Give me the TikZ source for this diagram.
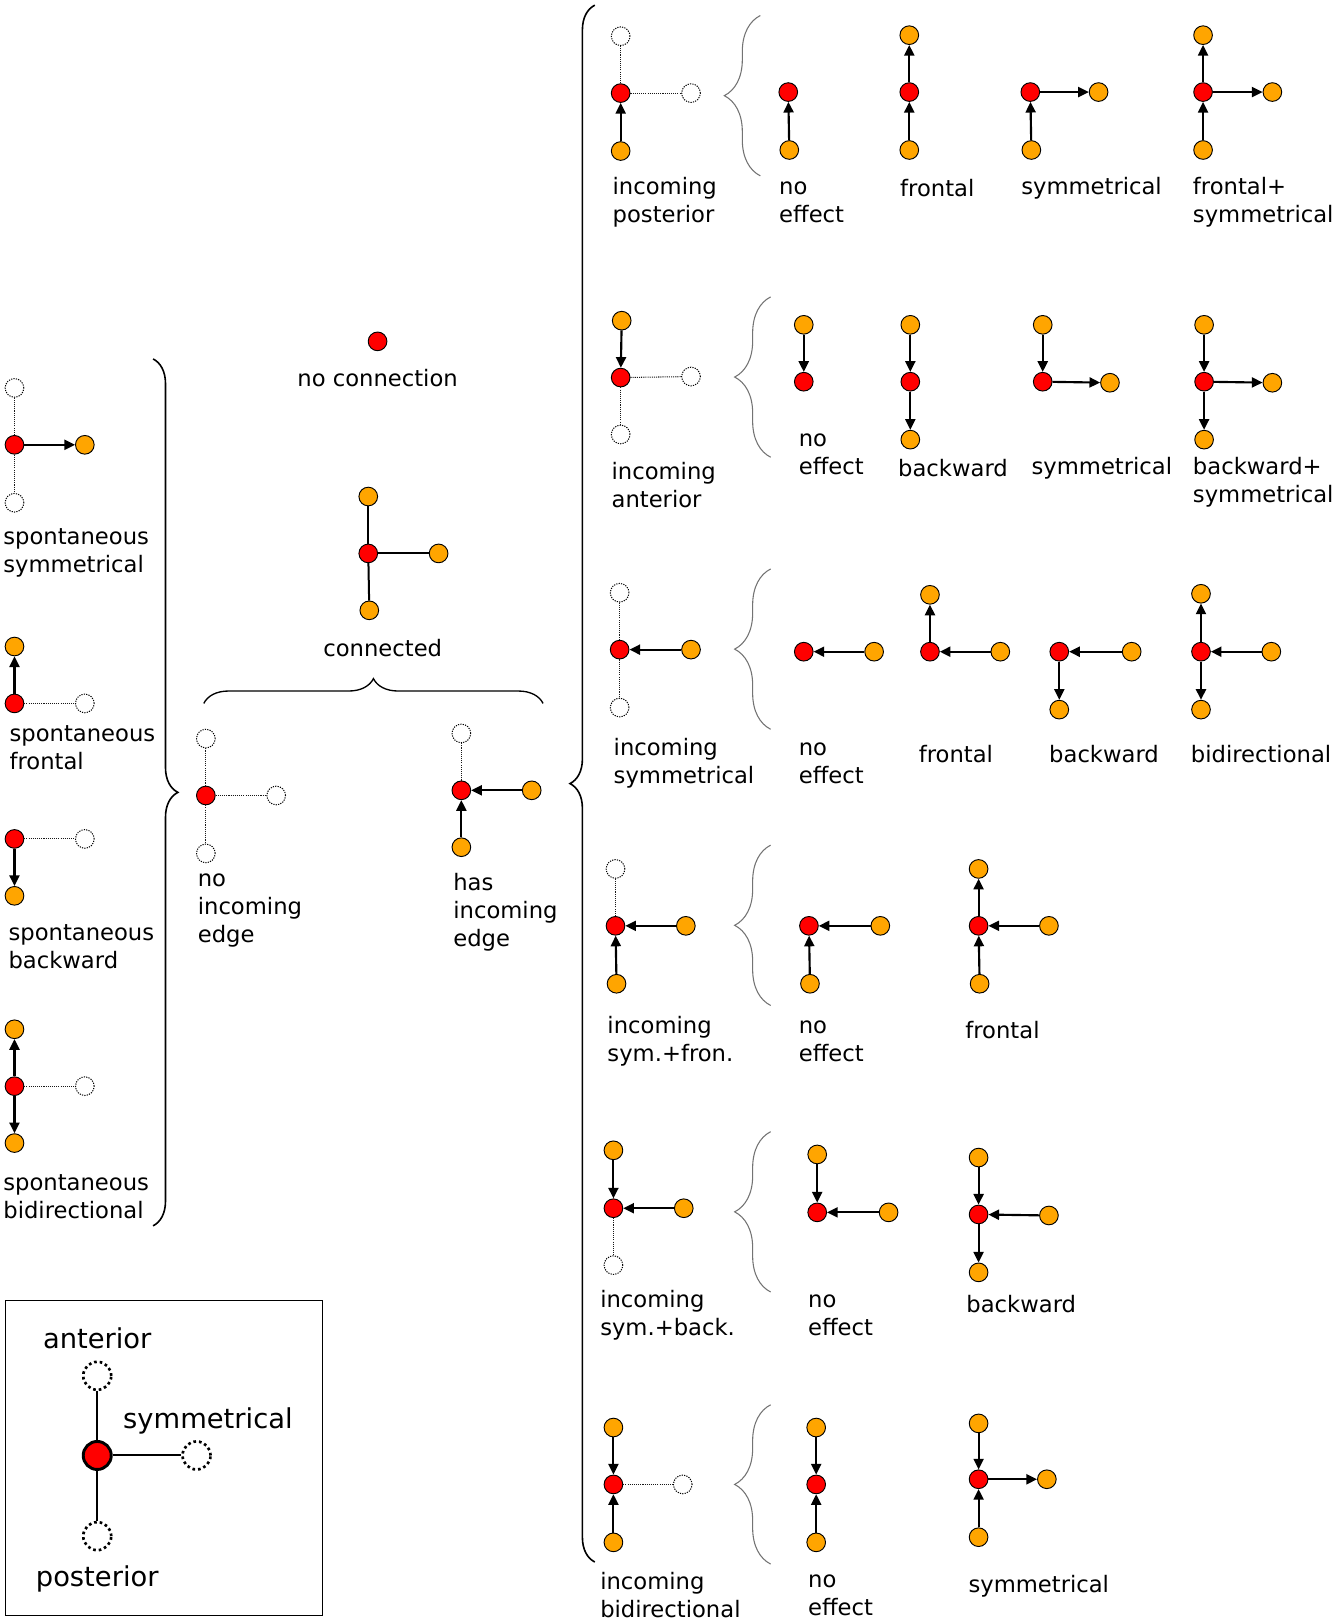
\documentclass[tikz,border=0pt]{standalone}
\usepackage{fontspec}
\setmainfont{DejaVu Sans}
\usetikzlibrary{arrows.meta,decorations.pathreplacing}
\definecolor{nodeorange}{HTML}{FFA500}
\definecolor{nodered}{HTML}{FF0000}
\begin{document}
\begin{tikzpicture}[x=0.7756pt,y=-0.7756pt,
  font=\fontsize{17pt}{21pt}\selectfont,
  rn/.style={circle,draw=black,line width=0.7pt,fill=nodered,minimum size=14pt,inner sep=0pt},
  on/.style={rn,fill=nodeorange},
  dn/.style={circle,draw=black,dash pattern=on 0.9pt off 0.9pt,line width=0.75pt,minimum size=14pt,inner sep=0pt},
  ar/.style={-{Triangle[length=8pt,width=7.5pt]},line width=1.6pt},
  ln/.style={line width=1.5pt},
  dl/.style={dash pattern=on 0.8pt off 0.8pt,line width=0.8pt,draw=black!90},
  lbl/.style={anchor=west,align=left,inner sep=0pt,yshift=-1.5pt},
  ctr/.style={anchor=center,inner sep=0pt,yshift=-1pt},
  bigbrace/.style={decorate,decoration={brace,amplitude=18.6pt},line width=1.2pt},
  smallbrace/.style={decorate,decoration={brace,amplitude=27pt},line width=0.8pt,draw=black!55},
  lgdot/.style={circle,draw=black,dash pattern=on 2pt off 2.2pt,line width=2pt,minimum size=21pt,inner sep=0pt},
  ]
\useasboundingbox (0,0) rectangle (1289,1568);

% ---------- left column ----------
\node[rn] (a1) at (14,430) {};
\node[dn] (a1t) at (14,375) {};
\node[dn] (a1b) at (14,486) {};
\node[on] (a1r) at (82,430) {};
\draw[dl] (a1) -- (a1t); \draw[dl] (a1) -- (a1b); \draw[ar] (a1) -- (a1r);
\node[lbl] (a1l) at (3,532.5) {spontaneous\\symmetrical};

\node[on] (a2t) at (14,625) {};
\node[rn] (a2) at (14,680) {};
\node[dn] (a2r) at (82,680) {};
\draw[ar] (a2) -- (a2t); \draw[dl] (a2) -- (a2r);
\node[lbl] (a2l) at (9,721) {spontaneous\\frontal};

\node[rn] (a3) at (14,811) {};
\node[dn] (a3r) at (82,811) {};
\node[on] (a3b) at (14,866) {};
\draw[ar] (a3) -- (a3b); \draw[dl] (a3) -- (a3r);
\node[lbl] (a3l) at (8,913.5) {spontaneous\\backward};

\node[on] (a4t) at (14,995) {};
\node[rn] (a4) at (14,1050) {};
\node[on] (a4b) at (14,1105) {};
\node[dn] (a4r) at (82,1050) {};
\draw[ar] (a4) -- (a4t); \draw[ar] (a4) -- (a4b); \draw[dl] (a4) -- (a4r);
\node[lbl] (a4l) at (3,1154.5) {spontaneous\\bidirectional};

\draw[bigbrace] (148,347) -- (148,1185);

% ---------- middle ----------
\node[rn] (nc) at (365,330) {};
\node[ctr] (ncl) at (365,364) {no connection};

\node[on] (ct) at (356,480) {};
\node[rn] (c) at (356,535) {};
\node[on] (cr) at (424,535) {};
\node[on] (cb) at (357,590) {};
\draw[ln] (c) -- (ct); \draw[ln] (c) -- (cr); \draw[ln] (c) -- (cb);
\node[ctr] (cl) at (370,625) {connected};

\draw[bigbrace,line width=1pt] (197,680) -- (525,680);

\node[rn] (ni) at (199,769) {};
\node[dn] (nit) at (199,714) {};
\node[dn] (nib) at (199,825) {};
\node[dn] (nir) at (267,769) {};
\draw[dl] (ni) -- (nit); \draw[dl] (ni) -- (nib); \draw[dl] (ni) -- (nir);
\node[lbl] (nil) at (191,878.5) {no\\incoming\\edge};

\node[rn] (hi) at (446,764) {};
\node[dn] (hit) at (446,709) {};
\node[on] (hir) at (514,764) {};
\node[on] (hib) at (446,819) {};
\draw[dl] (hi) -- (hit); \draw[ar] (hir) -- (hi); \draw[ar] (hib) -- (hi);
\node[lbl] (hil) at (438,880) {has\\incoming\\edge};

\draw[bigbrace] (575,1510) -- (575,5);

% ---------- row 1 ----------
\node[rn] (p1) at (600,90) {};
\node[dn] (p1t) at (600,35) {};
\node[dn] (p1r) at (668,90) {};
\node[on] (p1b) at (600,146) {};
\draw[dl] (p1) -- (p1t); \draw[dl] (p1) -- (p1r); \draw[ar] (p1b) -- (p1);
\node[lbl] (p1l) at (592,193.5) {incoming\\posterior};
\draw[smallbrace] (735,170) -- (735,15);

\node[rn] (n1) at (762,89) {};
\node[on] (n1b) at (763,145) {};
\draw[ar] (n1b) -- (n1);
\node[lbl] (n1l) at (753,193.5) {no\\effect};

\node[on] (f1t) at (879,34) {};
\node[rn] (f1) at (879,89) {};
\node[on] (f1b) at (879,145) {};
\draw[ar] (f1b) -- (f1); \draw[ar] (f1) -- (f1t);
\node[lbl] (f1l) at (870,180) {frontal};

\node[rn] (s1) at (996,89) {};
\node[on] (s1r) at (1062,89) {};
\node[on] (s1b) at (997,145) {};
\draw[ar] (s1b) -- (s1); \draw[ar] (s1) -- (s1r);
\node[lbl] (s1l) at (987,180) {symmetrical};

\node[on] (fs1t) at (1163,34) {};
\node[rn] (fs1) at (1163,89) {};
\node[on] (fs1r) at (1230,89) {};
\node[on] (fs1b) at (1163,145) {};
\draw[ar] (fs1b) -- (fs1); \draw[ar] (fs1) -- (fs1t); \draw[ar] (fs1) -- (fs1r);
\node[lbl] (fs1l) at (1153,193.5) {frontal+\\symmetrical};

% ---------- row 2 ----------
\node[on] (p2t) at (601,310) {};
\node[rn] (p2) at (600,365) {};
\node[dn] (p2r) at (668,364) {};
\node[dn] (p2b) at (600,420) {};
\draw[ar] (p2t) -- (p2); \draw[dl] (p2) -- (p2r); \draw[dl] (p2) -- (p2b);
\node[lbl] (p2l) at (591,466.5) {incoming\\anterior};
\draw[smallbrace] (745,442) -- (745,287);

\node[on] (n2t) at (777,314) {};
\node[rn] (n2) at (777,369) {};
\draw[ar] (n2t) -- (n2);
\node[lbl] (n2l) at (772,437.5) {no\\effect};

\node[on] (b2t) at (880,314) {};
\node[rn] (b2) at (880,369) {};
\node[on] (b2b) at (880,425) {};
\draw[ar] (b2t) -- (b2); \draw[ar] (b2) -- (b2b);
\node[lbl] (b2l) at (868,451) {backward};

\node[on] (s2t) at (1008,314) {};
\node[rn] (s2) at (1008,369) {};
\node[on] (s2r) at (1073,370) {};
\draw[ar] (s2t) -- (s2); \draw[ar] (s2) -- (s2r);
\node[lbl] (s2l) at (997,451) {symmetrical};

\node[on] (bs2t) at (1164,314) {};
\node[rn] (bs2) at (1164,369) {};
\node[on] (bs2r) at (1230,370) {};
\node[on] (bs2b) at (1164,425) {};
\draw[ar] (bs2t) -- (bs2); \draw[ar] (bs2) -- (bs2r); \draw[ar] (bs2) -- (bs2b);
\node[lbl] (bs2l) at (1153,464.5) {backward+\\symmetrical};

% ---------- row 3 ----------
\node[dn] (p3t) at (599,573) {};
\node[rn] (p3) at (599,628) {};
\node[on] (p3r) at (668,628) {};
\node[dn] (p3b) at (599,684) {};
\draw[dl] (p3) -- (p3t); \draw[ar] (p3r) -- (p3); \draw[dl] (p3) -- (p3b);
\node[lbl] (p3l) at (593,735.5) {incoming\\symmetrical};
\draw[smallbrace] (745,705) -- (745,550);

\node[rn] (n3) at (777,630) {};
\node[on] (n3r) at (845,630) {};
\draw[ar] (n3r) -- (n3);
\node[lbl] (n3l) at (772,735.5) {no\\effect};

\node[on] (f3t) at (899,575) {};
\node[rn] (f3) at (899,630) {};
\node[on] (f3r) at (967,630) {};
\draw[ar] (f3r) -- (f3); \draw[ar] (f3) -- (f3t);
\node[lbl] (f3l) at (888,727) {frontal};

\node[rn] (b3) at (1024,630) {};
\node[on] (b3r) at (1094,630) {};
\node[on] (b3b) at (1024,686) {};
\draw[ar] (b3r) -- (b3); \draw[ar] (b3) -- (b3b);
\node[lbl] (b3l) at (1014,727) {backward};

\node[on] (bi3t) at (1161,574) {};
\node[rn] (bi3) at (1161,630) {};
\node[on] (bi3r) at (1229,630) {};
\node[on] (bi3b) at (1161,686) {};
\draw[ar] (bi3r) -- (bi3); \draw[ar] (bi3) -- (bi3t); \draw[ar] (bi3) -- (bi3b);
\node[lbl] (bi3l) at (1151,727) {bidirectional};

% ---------- row 4 ----------
\node[dn] (p4t) at (595,840) {};
\node[rn] (p4) at (595,895) {};
\node[on] (p4r) at (663,895) {};
\node[on] (p4b) at (596,951) {};
\draw[dl] (p4) -- (p4t); \draw[ar] (p4r) -- (p4); \draw[ar] (p4b) -- (p4);
\node[lbl] (p4l) at (587,1004.5) {incoming\\sym.+fron.};
\draw[smallbrace] (745,972) -- (745,817);

\node[rn] (n4) at (782,895) {};
\node[on] (n4r) at (851,895) {};
\node[on] (n4b) at (783,951) {};
\draw[ar] (n4r) -- (n4); \draw[ar] (n4b) -- (n4);
\node[lbl] (n4l) at (772,1004.5) {no\\effect};

\node[on] (f4t) at (946,840) {};
\node[rn] (f4) at (946,895) {};
\node[on] (f4r) at (1014,895) {};
\node[on] (f4b) at (947,951) {};
\draw[ar] (f4r) -- (f4); \draw[ar] (f4b) -- (f4); \draw[ar] (f4) -- (f4t);
\node[lbl] (f4l) at (933,994) {frontal};

% ---------- row 5 ----------
\node[on] (p5t) at (593,1112) {};
\node[rn] (p5) at (593,1168) {};
\node[on] (p5r) at (661,1168) {};
\node[dn] (p5b) at (593,1223) {};
\draw[ar] (p5t) -- (p5); \draw[ar] (p5r) -- (p5); \draw[dl] (p5) -- (p5b);
\node[lbl] (p5l) at (580,1269.5) {incoming\\sym.+back.};
\draw[smallbrace] (745,1249) -- (745,1094);

\node[on] (n5t) at (790,1116) {};
\node[rn] (n5) at (790,1172) {};
\node[on] (n5r) at (859,1172) {};
\draw[ar] (n5t) -- (n5); \draw[ar] (n5r) -- (n5);
\node[lbl] (n5l) at (781,1269.5) {no\\effect};

\node[on] (b5t) at (946,1119) {};
\node[rn] (b5) at (946,1174) {};
\node[on] (b5r) at (1014,1175) {};
\node[on] (b5b) at (946,1230) {};
\draw[ar] (b5t) -- (b5); \draw[ar] (b5r) -- (b5); \draw[ar] (b5) -- (b5b);
\node[lbl] (b5l) at (934,1259) {backward};

% ---------- row 6 ----------
\node[on] (p6t) at (593,1380) {};
\node[rn] (p6) at (593,1435) {};
\node[dn] (p6r) at (660,1435) {};
\node[on] (p6b) at (593,1491) {};
\draw[ar] (p6t) -- (p6); \draw[ar] (p6b) -- (p6); \draw[dl] (p6) -- (p6r);
\node[lbl,yshift=1.5pt] (p6l) at (580,1542) {incoming\\bidirectional};
\draw[smallbrace] (745,1512) -- (745,1358);

\node[on] (n6t) at (789,1380) {};
\node[rn] (n6) at (789,1435) {};
\node[on] (n6b) at (789,1491) {};
\draw[ar] (n6t) -- (n6); \draw[ar] (n6b) -- (n6);
\node[lbl,yshift=1.5pt] (n6l) at (781,1542) {no\\effect};

\node[on] (s6t) at (946,1376) {};
\node[rn] (s6) at (946,1430) {};
\node[on] (s6r) at (1012,1430) {};
\node[on] (s6b) at (946,1486) {};
\draw[ar] (s6t) -- (s6); \draw[ar] (s6b) -- (s6); \draw[ar] (s6) -- (s6r);
\node[lbl] (s6l) at (936,1531) {symmetrical};

% ---------- legend ----------
\draw[line width=1pt] (5,1257) rectangle (312,1562);
\node[rn,minimum size=21pt,line width=2.2pt] (lg) at (94,1407) {};
\node[lgdot] (lga) at (94,1330) {};
\node[lgdot] (lgs) at (190,1407) {};
\node[lgdot] (lgp) at (94,1485) {};
\draw[ln] (lg) -- (lga); \draw[ln] (lg) -- (lgs); \draw[ln] (lg) -- (lgp);
\node[ctr,font=\fontsize{20.5pt}{24pt}\selectfont] (lgal) at (94,1292) {anterior};
\node[ctr,font=\fontsize{20.5pt}{24pt}\selectfont] (lgsl) at (201,1372) {symmetrical};
\node[ctr,font=\fontsize{20.5pt}{24pt}\selectfont] (lgpl) at (94,1525) {posterior};
\end{tikzpicture}
\end{document}
